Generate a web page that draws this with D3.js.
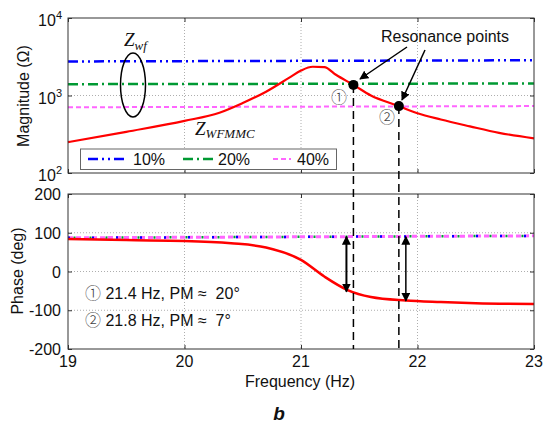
<!DOCTYPE html>
<meta charset="utf-8">
<style>
body { margin: 0; background: #fff; }
svg text { font-family: "Liberation Sans", Arial, sans-serif; fill: #111; }
svg text.serif { font-family: "Liberation Serif", "Times New Roman", serif; font-style: italic; }
svg .circ { font-family: "Noto Sans CJK JP", "DejaVu Sans", sans-serif; font-weight: 300; fill: #444; }
.grid line { stroke: #999; stroke-width: 0.8; stroke-dasharray: 1,2; }
.frame { fill: none; stroke: #333; stroke-width: 1; }
.tick line { stroke: #333; }
</style>
<svg width="544" height="426"></svg>
<script src="https://d3js.org/d3.v7.min.js"></script>
<script>

// data
var magFreq = [19, 19.5, 20, 20.3, 20.5, 20.7, 20.9, 21.0, 21.1, 21.2, 21.3, 21.45, 21.6, 21.84, 22, 22.2, 22.45, 22.7, 23];
var magWFMMC = [250, 340, 470, 600, 800, 1120, 1700, 2100, 2350, 2330, 1850, 1370, 1000, 730, 590, 490, 400, 330, 280];

var phFreq = [19, 19.5, 20, 20.4, 20.7, 21.0, 21.2, 21.4, 21.6, 21.9, 22.2, 22.5, 23];
var phWFMMC = [84, 81, 79, 73, 62, 30, -13, -48, -66, -75, -79, -82, -84];

var zwfFreq = [19, 23];
var mag10 = [2750, 2850];
var mag20 = [1400, 1430];
var mag40 = [705, 730];
var ph10 = [87, 92];
var ph20 = [87, 92];
var ph40 = [87, 92];

var series = ["10%", "20%", "40%"];
var colors = ["#0000ff", "#009933", "#ff66ff"];
var dashes = ["10,4,2,4,2,4", "10,4,2,4", "5,3"];

var resFreq = [21.45, 21.84];
var resMag = [1370, 730];
var arrowFreq = [21.39, 21.9];
var arrowLow = [-52, -76];

var xTicks = [19, 20, 21, 22, 23];
var magTicks = [100, 1000, 10000];
var phTicks = [-200, -100, 0, 100, 200];

var svg = d3.select("svg");
var L = 68, R = 534;
var x = d3.scaleLinear().domain([19, 23]).range([L, R]);
var yM = d3.scaleLog().domain([100, 10000]).range([173, 18]);
var yP = d3.scaleLinear().domain([-200, 200]).range([349, 194]);

var defs = svg.append("defs");
defs.append("marker").attr("id", "ah").attr("viewBox", "0 0 10 10")
    .attr("refX", 9).attr("refY", 5).attr("markerWidth", 9).attr("markerHeight", 9)
    .attr("markerUnits", "userSpaceOnUse").attr("orient", "auto-start-reverse")
  .append("path").attr("d", "M0,0L10,5L0,10z").attr("fill", "#000");

function panel(y, ticksY, gridY) {
  var g = svg.append("g");
  g.append("rect").attr("x", L).attr("y", y.range()[1]).attr("width", R - L)
      .attr("height", y.range()[0] - y.range()[1]).attr("fill", "#fff");
  var grid = g.append("g").attr("class", "grid");
  grid.selectAll(".gx").data([20, 21, 22]).enter().append("line")
      .attr("x1", x).attr("x2", x).attr("y1", y.range()[1]).attr("y2", y.range()[0]);
  grid.selectAll(".gy").data(gridY).enter().append("line")
      .attr("x1", L).attr("x2", R).attr("y1", y).attr("y2", y);
  // inner ticks on all four sides
  g.append("g").attr("transform", "translate(0," + y.range()[0] + ")")
      .call(d3.axisTop(x).tickValues(xTicks).tickSize(4).tickFormat(""))
      .call(function(a) { a.select(".domain").remove(); });
  g.append("g").attr("transform", "translate(0," + y.range()[1] + ")")
      .call(d3.axisBottom(x).tickValues(xTicks).tickSize(4).tickFormat(""))
      .call(function(a) { a.select(".domain").remove(); });
  g.append("g").attr("transform", "translate(" + L + ",0)")
      .call(d3.axisRight(y).tickValues(ticksY).tickSize(4).tickFormat(""))
      .call(function(a) { a.select(".domain").remove(); });
  g.append("g").attr("transform", "translate(" + R + ",0)")
      .call(d3.axisLeft(y).tickValues(ticksY).tickSize(4).tickFormat(""))
      .call(function(a) { a.select(".domain").remove(); });
  return g;
}

var gTop = panel(yM, magTicks, [1000]);
var gBot = panel(yP, phTicks, [-100, 0, 100]);

// magnitude tick labels with superscripts
magTicks.forEach(function(v) {
  var t = svg.append("text").attr("x", 62).attr("y", yM(v) + 8)
      .attr("text-anchor", "end").attr("font-size", 16);
  t.append("tspan").text("10");
  t.append("tspan").attr("font-size", 11).attr("dy", -7).text(Math.round(Math.log10(v)));
});
svg.selectAll(".pl").data(phTicks).enter().append("text")
    .attr("x", 61).attr("y", function(d) { return yP(d) + 6; })
    .attr("text-anchor", "end").attr("font-size", 16).text(function(d) { return d; });
svg.selectAll(".xl").data(xTicks).enter().append("text")
    .attr("x", x).attr("y", 367).attr("text-anchor", "middle")
    .attr("font-size", 16).text(function(d) { return d; });

// Zwf lines
var lineM = d3.line().x(function(d) { return x(d[0]); }).y(function(d) { return yM(d[1]); });
var lineP = d3.line().x(function(d) { return x(d[0]); }).y(function(d) { return yP(d[1]); });
var magS = [mag10, mag20, mag40], phS = [ph10, ph20, ph40];
[0, 1, 2].forEach(function(i) {
  gTop.append("path").datum(d3.zip(zwfFreq, magS[i])).attr("d", lineM)
      .attr("fill", "none").attr("stroke", colors[i]).attr("stroke-width", i == 2 ? 2 : 2.5)
      .attr("stroke-dasharray", dashes[i]);
});
[2, 1, 0].forEach(function(i) {
  gBot.append("path").datum(d3.zip(zwfFreq, phS[i])).attr("d", lineP)
      .attr("fill", "none").attr("stroke", colors[i]).attr("stroke-width", i == 2 ? 3 : 2.5)
      .attr("stroke-dasharray", i == 2 ? "5,3" : (i == 1 ? "2,14" : "2,22"))
      .attr("stroke-dashoffset", i == 1 ? -5.5 : 0);
});

// Z_WFMMC
gTop.append("path").datum(d3.zip(magFreq, magWFMMC))
    .attr("d", lineM.curve(d3.curveMonotoneX))
    .attr("fill", "none").attr("stroke", "#ff0000").attr("stroke-width", 2.2);
gBot.append("path").datum(d3.zip(phFreq, phWFMMC))
    .attr("d", lineP.curve(d3.curveMonotoneX))
    .attr("fill", "none").attr("stroke", "#ff0000").attr("stroke-width", 2.5);

// frames
svg.append("rect").attr("class", "frame").attr("x", L).attr("y", 18).attr("width", R - L).attr("height", 155);
svg.append("rect").attr("class", "frame").attr("x", L).attr("y", 194).attr("width", R - L).attr("height", 155);

// legend
var lg = svg.append("g");
lg.append("rect").attr("x", 80.5).attr("y", 149).attr("width", 256).attr("height", 20.5)
    .attr("fill", "#fff").attr("stroke", "#666").attr("stroke-width", 1);
var lx = [[88, 128, 133], [183, 213, 218], [273, 291, 297]];
series.forEach(function(s, i) {
  lg.append("line").attr("x1", lx[i][0]).attr("x2", lx[i][1]).attr("y1", 159).attr("y2", 159)
      .attr("stroke", colors[i]).attr("stroke-width", i == 2 ? 2 : 2.5).attr("stroke-dasharray", dashes[i]);
  lg.append("text").attr("x", lx[i][2]).attr("y", 165).attr("font-size", 16).text(s);
});

// vertical dashed lines from resonance points
resFreq.forEach(function(f, i) {
  svg.append("line").attr("x1", x(f)).attr("x2", x(f)).attr("y1", yM(resMag[i])).attr("y2", 349)
      .attr("stroke", "#000").attr("stroke-width", 1.5).attr("stroke-dasharray", "8,5");
  svg.append("circle").attr("cx", x(f)).attr("cy", yM(resMag[i])).attr("r", 5).attr("fill", "#000");
});

// ellipse and labels
svg.append("ellipse").attr("cx", 133).attr("cy", 85).attr("rx", 12.5).attr("ry", 32)
    .attr("fill", "none").attr("stroke", "#000").attr("stroke-width", 1.5);
var zt = svg.append("text").attr("class", "serif").attr("x", 124).attr("y", 46).attr("font-size", 19);
zt.append("tspan").text("Z");
zt.append("tspan").attr("font-size", 13).attr("dy", 4).text("wf");
var zm = svg.append("text").attr("class", "serif").attr("x", 195).attr("y", 135).attr("font-size", 19);
zm.append("tspan").text("Z");
zm.append("tspan").attr("font-size", 13).attr("dy", 3).text("WFMMC");

svg.append("text").attr("x", 445).attr("y", 42).attr("text-anchor", "middle")
    .attr("font-size", 16).text("Resonance points");
svg.append("line").attr("x1", 407).attr("y1", 47).attr("x2", 360).attr("y2", 79)
    .attr("stroke", "#000").attr("stroke-width", 1.5).attr("marker-end", "url(#ah)");
svg.append("line").attr("x1", 425).attr("y1", 50).attr("x2", 402).attr("y2", 100)
    .attr("stroke", "#000").attr("stroke-width", 1.5).attr("marker-end", "url(#ah)");

svg.append("text").attr("class", "circ").attr("x", 339).attr("y", 103).attr("text-anchor", "middle")
    .attr("font-size", 16).text("①");
svg.append("text").attr("class", "circ").attr("x", 387).attr("y", 123).attr("text-anchor", "middle")
    .attr("font-size", 16).text("②");

// double arrows in phase plot
arrowFreq.forEach(function(f, i) {
  svg.append("line").attr("x1", x(f)).attr("x2", x(f)).attr("y1", yP(90)).attr("y2", yP(arrowLow[i]))
      .attr("stroke", "#000").attr("stroke-width", i == 0 ? 2 : 1.5)
      .attr("marker-start", "url(#ah)").attr("marker-end", "url(#ah)");
});

// phase annotations
var notes = [["①", " 21.4 Hz, PM \u2248  20°"], ["②", " 21.8 Hz, PM \u2248  7°"]];
notes.forEach(function(n, i) {
  var t = svg.append("text").attr("x", 85).attr("y", 299 + i * 26.5).attr("font-size", 16)
      .style("white-space", "pre");
  t.append("tspan").attr("class", "circ").text(n[0]);
  t.append("tspan").text(n[1]);
});

// axis titles
svg.append("text").attr("transform", "translate(29,96) rotate(-90)").attr("text-anchor", "middle")
    .attr("font-size", 16).text("Magnitude (\u03a9)");
svg.append("text").attr("transform", "translate(23,271) rotate(-90)").attr("text-anchor", "middle")
    .attr("font-size", 16).text("Phase (deg)");
svg.append("text").attr("x", 300).attr("y", 387).attr("text-anchor", "middle")
    .attr("font-size", 16).text("Frequency (Hz)");
svg.append("text").attr("x", 279).attr("y", 420).attr("text-anchor", "middle")
    .attr("font-size", 19).attr("font-style", "italic").attr("font-weight", "bold").text("b");

</script>
